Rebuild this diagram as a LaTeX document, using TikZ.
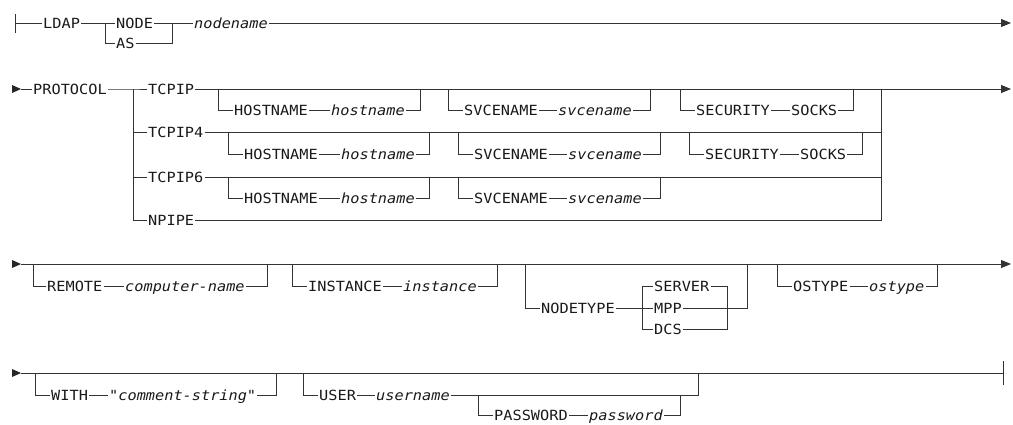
\documentclass[tikz,border=0pt]{standalone}
\usepackage{fontspec}
\newfontfamily\dfont{DejaVu Sans Mono}[FakeStretch=1.09]
\usetikzlibrary{arrows.meta}
\tikzset{
  kw/.style={font=\dfont\fontsize{14}{14}\selectfont, text=black!90, inner xsep=1pt, inner ysep=0pt, anchor=west, text height=10pt, text depth=0pt},
  var/.style={kw, font=\dfont\itshape\fontsize{14}{14}\selectfont},
  rail/.style={line width=0.9pt, draw=black!80},
  endarrow/.style={rail, -{Triangle[length=10pt,width=8pt]}},
  starttip/.style={fill=black!85},
}
\begin{document}
\begin{tikzpicture}[x=1pt,y=-1pt]
\useasboundingbox (0,0) rectangle (1013,424);

% ---------------- Row 1 ----------------
\coordinate (s1) at (15,23);
\coordinate (s1a) at (15,14);
\coordinate (s1b) at (15,33);
\node[kw] (ldap) at (42,23) {LDAP};
\coordinate (b1) at (105,23);
\node[kw] (node) at (115,23) {NODE};
\node[kw] (as) at (115,43) {AS};
\coordinate (m1) at (172,23);
\node[var] (nodename) at (193,23) {nodename};
\coordinate (e1) at (1011,23);
\draw[rail] (s1a) -- (s1b);
\draw[rail] (s1) -- (ldap.west);
\draw[rail] (ldap.east) -- (node.west);
\draw[rail] (b1) |- (as.west);
\draw[rail] (node.east) -- (m1);
\draw[rail] (as.east) -| (m1);
\draw[rail] (m1) -- (nodename.west);
\draw[endarrow] (nodename.east) -- (e1);

% ---------------- Row 2 ----------------
\coordinate (s2) at (12,89);
\coordinate (s2t) at (21,89);
\fill[starttip] (s2) ++(0,-4) -- ++(9,4) -- ++(-9,4) -- cycle;
\node[kw] (protocol) at (32,89) {PROTOCOL};
\coordinate (bl2) at (133,89);
\coordinate (br2) at (881,89);
\coordinate (e2) at (1011,89);
\node[kw] (tcpip) at (147,89) {TCPIP};
\node[kw] (tcpip4) at (147,132) {TCPIP4};
\node[kw] (tcpip6) at (147,177) {TCPIP6};
\node[kw] (npipe) at (147,220) {NPIPE};
\draw[rail] (s2t) -- (protocol.west);
\draw[rail] (protocol.east) -- (bl2) -- (tcpip.west);
\draw[rail] (bl2) |- (tcpip4.west);
\draw[rail] (bl2) |- (tcpip6.west);
\draw[rail] (bl2) |- (npipe.west);
\draw[rail] (tcpip.east) -- (br2);
\draw[rail] (tcpip4.east) -| (br2);
\draw[rail] (tcpip6.east) -| (br2);
\draw[rail] (npipe.east) -| (br2);
\draw[endarrow] (br2) -- (e2);

% TCPIP optional parts
\coordinate (hA1) at (218,89);  \coordinate (hA2) at (420,89);
\node[kw]  (hA)  at (233,110) {HOSTNAME};
\node[var] (hvA) at (330,110) {hostname};
\draw[rail] (hA1) |- (hA.west);
\draw[rail] (hA.east) -- (hvA.west);
\draw[rail] (hvA.east) -| (hA2);
\coordinate (sA1) at (448,89);  \coordinate (sA2) at (650,89);
\node[kw]  (sA)  at (463,110) {SVCENAME};
\node[var] (svA) at (557,110) {svcename};
\draw[rail] (sA1) |- (sA.west);
\draw[rail] (sA.east) -- (svA.west);
\draw[rail] (svA.east) -| (sA2);
\coordinate (cA1) at (680,89);  \coordinate (cA2) at (853,89);
\node[kw] (cA)  at (695,110) {SECURITY};
\node[kw] (ckA) at (790,110) {SOCKS};
\draw[rail] (cA1) |- (cA.west);
\draw[rail] (cA.east) -- (ckA.west);
\draw[rail] (ckA.east) -| (cA2);

% TCPIP4 optional parts
\coordinate (hB1) at (228,132);  \coordinate (hB2) at (429,132);
\node[kw]  (hB)  at (243,154) {HOSTNAME};
\node[var] (hvB) at (340,154) {hostname};
\draw[rail] (hB1) |- (hB.west);
\draw[rail] (hB.east) -- (hvB.west);
\draw[rail] (hvB.east) -| (hB2);
\coordinate (sB1) at (458,132);  \coordinate (sB2) at (660,132);
\node[kw]  (sB)  at (473,154) {SVCENAME};
\node[var] (svB) at (567,154) {svcename};
\draw[rail] (sB1) |- (sB.west);
\draw[rail] (sB.east) -- (svB.west);
\draw[rail] (svB.east) -| (sB2);
\coordinate (cB1) at (689,132);  \coordinate (cB2) at (862,132);
\node[kw] (cB)  at (704,154) {SECURITY};
\node[kw] (ckB) at (799,154) {SOCKS};
\draw[rail] (cB1) |- (cB.west);
\draw[rail] (cB.east) -- (ckB.west);
\draw[rail] (ckB.east) -| (cB2);

% TCPIP6 optional parts
\coordinate (hC1) at (228,177);  \coordinate (hC2) at (429,177);
\node[kw]  (hC)  at (243,198) {HOSTNAME};
\node[var] (hvC) at (340,198) {hostname};
\draw[rail] (hC1) |- (hC.west);
\draw[rail] (hC.east) -- (hvC.west);
\draw[rail] (hvC.east) -| (hC2);
\coordinate (sC1) at (458,177);  \coordinate (sC2) at (660,177);
\node[kw]  (sC)  at (473,198) {SVCENAME};
\node[var] (svC) at (567,198) {svcename};
\draw[rail] (sC1) |- (sC.west);
\draw[rail] (sC.east) -- (svC.west);
\draw[rail] (svC.east) -| (sC2);

% ---------------- Row 3 ----------------
\coordinate (s3) at (12,264);
\coordinate (s3t) at (21,264);
\coordinate (e3) at (1011,264);
\fill[starttip] (s3) ++(0,-4) -- ++(9,4) -- ++(-9,4) -- cycle;
\draw[endarrow] (s3t) -- (e3);
\coordinate (r1) at (33,264);  \coordinate (r2) at (267,264);
\node[kw]  (remote) at (46,286) {REMOTE};
\node[var] (cname)  at (124,286) {computer-name};
\draw[rail] (r1) |- (remote.west);
\draw[rail] (remote.east) -- (cname.west);
\draw[rail] (cname.east) -| (r2);
\coordinate (i1) at (292,264);  \coordinate (i2) at (497,264);
\node[kw]  (instance) at (307,286) {INSTANCE};
\node[var] (inst)     at (402,286) {instance};
\draw[rail] (i1) |- (instance.west);
\draw[rail] (instance.east) -- (inst.west);
\draw[rail] (inst.east) -| (i2);
\coordinate (n1) at (525,264);  \coordinate (n2) at (747,264);
\node[kw] (nodetype) at (540,308) {NODETYPE};
\coordinate (nb) at (642,308);
\coordinate (nm) at (727,308);
\node[kw] (server) at (653,286) {SERVER};
\node[kw] (mpp)    at (653,308) {MPP};
\node[kw] (dcs)    at (653,329) {DCS};
\draw[rail] (n1) |- (nodetype.west);
\draw[rail] (nodetype.east) -- (mpp.west);
\draw[rail] (nb) |- (server.west);
\draw[rail] (nb) |- (dcs.west);
\draw[rail] (server.east) -| (nm);
\draw[rail] (dcs.east) -| (nm);
\draw[rail] (mpp.east) -| (n2);
\coordinate (o1) at (777,264);  \coordinate (o2) at (937,264);
\node[kw]  (ostype) at (792,286) {OSTYPE};
\node[var] (ost)    at (868,286) {ostype};
\draw[rail] (o1) |- (ostype.west);
\draw[rail] (ostype.east) -- (ost.west);
\draw[rail] (ost.east) -| (o2);

% ---------------- Row 4 ----------------
\coordinate (s4) at (12,373);
\coordinate (s4t) at (21,373);
\coordinate (e4) at (1003,373);
\coordinate (e4a) at (1003,361);
\coordinate (e4b) at (1003,385);
\fill[starttip] (s4) ++(0,-4) -- ++(9,4) -- ++(-9,4) -- cycle;
\draw[rail] (s4t) -- (e4);
\draw[rail] (e4a) -- (e4b);
\coordinate (w1) at (35,373);  \coordinate (w2) at (276,373);
\node[kw]  (with) at (50,395) {WITH};
\node[var] (cstr) at (108,395) {"comment-string"};
\draw[rail] (w1) |- (with.west);
\draw[rail] (with.east) -- (cstr.west);
\draw[rail] (cstr.east) -| (w2);
\coordinate (u1) at (303,373);  \coordinate (u2) at (698,373);
\node[kw]  (user)  at (318,395) {USER};
\node[var] (uname) at (375,395) {username};
\draw[rail] (u1) |- (user.west);
\draw[rail] (user.east) -- (uname.west);
\draw[rail] (uname.east) -| (u2);
\coordinate (p1) at (478,395);  \coordinate (p2) at (680,395);
\node[kw]  (password) at (493,415) {PASSWORD};
\node[var] (pword)    at (588,415) {password};
\draw[rail] (p1) |- (password.west);
\draw[rail] (password.east) -- (pword.west);
\draw[rail] (pword.east) -| (p2);
\end{tikzpicture}
\end{document}
